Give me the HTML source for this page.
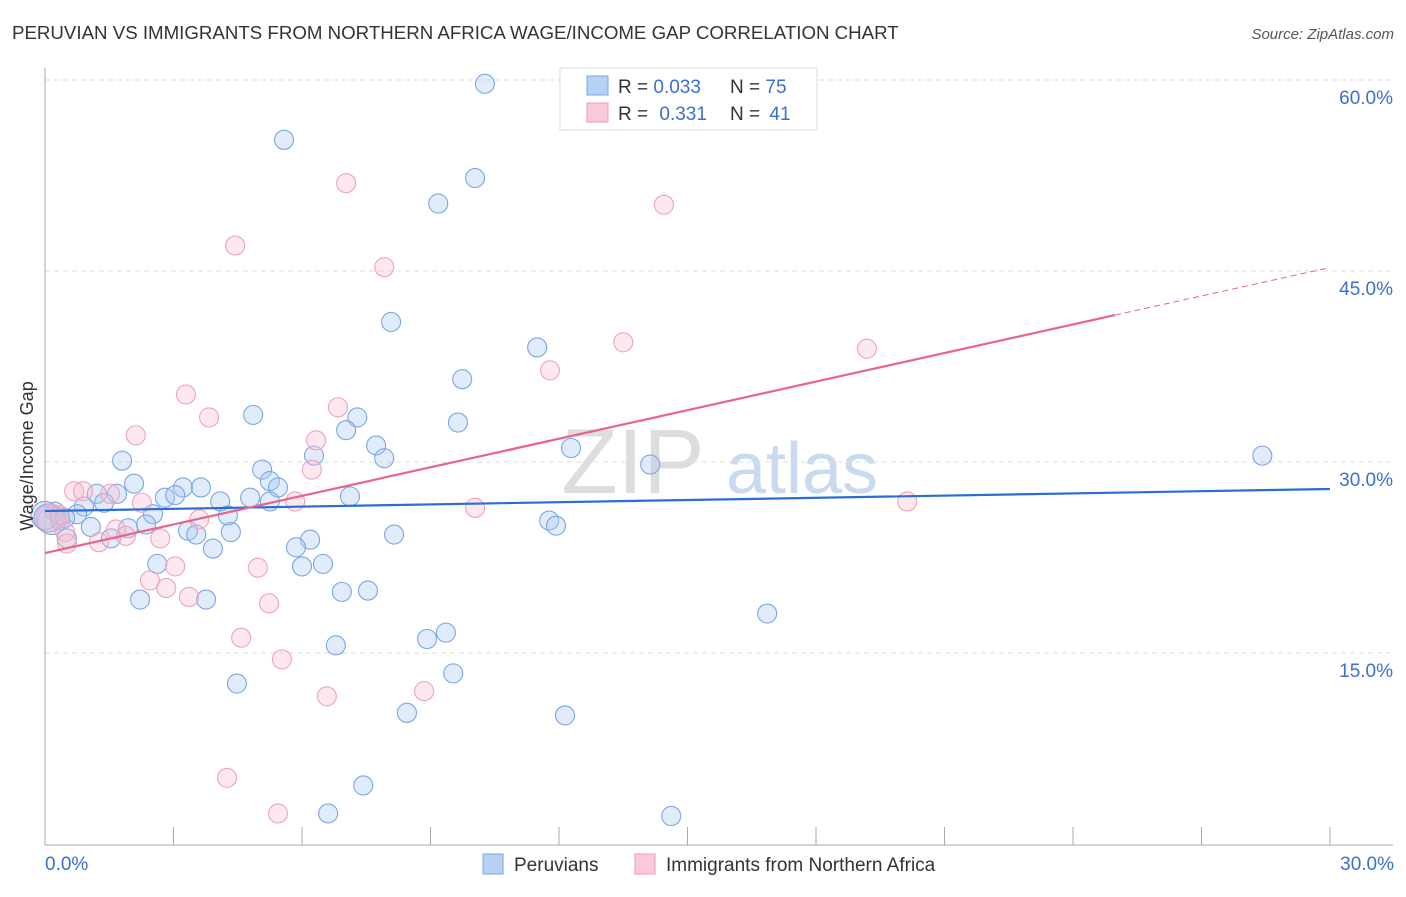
<!DOCTYPE html>
<html><head><meta charset="utf-8"><style>
body{margin:0;background:#fff;font-family:"Liberation Sans",sans-serif}
svg text{font-family:"Liberation Sans",sans-serif}
</style></head><body>
<svg id="chart" width="1406" height="892" xmlns="http://www.w3.org/2000/svg">
<text x="12" y="39" font-size="18.7" fill="#333">PERUVIAN VS IMMIGRANTS FROM NORTHERN AFRICA WAGE/INCOME GAP CORRELATION CHART</text>
<text x="1394" y="39" font-size="15" fill="#555" font-style="italic" text-anchor="end">Source: ZipAtlas.com</text>
<text x="633" y="493" font-size="92" fill="#ddd" font-family="Liberation Serif" text-anchor="middle">ZIP</text>
<text x="802" y="493" font-size="72" fill="#c9d9f0" text-anchor="middle">atlas</text>
<g id="grid"></g>
<g id="axes"></g>
<g id="points"></g>
<g id="lines"></g>
<text transform="translate(33,456) rotate(-90)" font-size="18" fill="#333" text-anchor="middle">Wage/Income Gap</text>
<g>
<rect x="560" y="68" width="257" height="62" fill="#fff" stroke="#ddd"/>
<rect x="587" y="76" width="21" height="19" fill="#b7d1f4" stroke="#7aa6e6"/>
<rect x="587" y="103" width="21" height="19" fill="#fbc9d8" stroke="#f09ab4"/>
<text x="618" y="93" font-size="19" fill="#333">R = <tspan fill="#3a6fd0">0.033</tspan></text>
<text x="730" y="93" font-size="19" fill="#333">N = <tspan fill="#3a6fd0">75</tspan></text>
<text x="618" y="120" font-size="19" fill="#333">R = <tspan fill="#3a6fd0" dx="6">0.331</tspan></text>
<text x="730" y="120" font-size="19" fill="#333">N = <tspan fill="#3a6fd0" dx="4">41</tspan></text>
</g>
<g>
<rect x="483" y="854" width="20" height="20" fill="#b7d1f4" stroke="#7aa6e6"/>
<text x="514" y="871" font-size="19" fill="#333">Peruvians</text>
<rect x="635" y="854" width="20" height="20" fill="#fbc9d8" stroke="#f09ab4"/>
<text x="666" y="871" font-size="19" fill="#333">Immigrants from Northern Africa</text>
</g>
<text x="45" y="870" font-size="19" fill="#3a6fd0">0.0%</text>
<text x="1394" y="870" font-size="19" fill="#3a6fd0" text-anchor="end">30.0%</text>
</svg>
<script>
const yTicks=[15,30,45,60];
const yTickLabels=["15.0%","30.0%","45.0%","60.0%"];
const xTicks=[0,3,6,9,12,15,18,21,24,27,30];
const blueX=[10.27,5.58,10.04,9.18,8.08,11.49,9.74,4.86,7.29,7.03,9.64,7.73,7.92,12.28,6.28,1.80,5.07,14.13,28.42,2.08,5.25,3.22,3.64,5.44,2.80,3.04,7.12,4.79,1.21,1.68,4.09,5.25,1.38,0.91,0.75,2.52,4.27,0.23,0.16,0.35,11.77,11.93,1.07,1.94,2.36,3.34,3.53,4.34,8.15,1.54,0.51,6.19,5.86,3.92,2.62,6.00,6.49,6.93,7.54,2.22,3.76,16.86,9.36,8.92,6.79,9.53,4.48,8.45,12.14,7.43,6.61,14.62,0.0,0.07,0.47];
const blueY=[59.7,55.3,52.3,50.3,41.0,39.0,36.5,33.7,33.5,32.5,33.1,31.3,30.3,31.1,30.5,30.1,29.4,29.8,30.5,28.3,28.5,28.0,28.0,28.0,27.2,27.4,27.3,27.2,27.5,27.5,26.9,26.9,26.8,26.5,25.9,25.9,25.8,26.1,25.4,25.4,25.4,25.0,24.9,24.8,25.1,24.6,24.3,24.5,24.3,24.0,24.0,23.9,23.3,23.2,22.0,21.8,22.0,19.8,19.9,19.2,19.2,18.1,16.6,16.1,15.6,13.4,12.6,10.3,10.1,4.6,2.4,2.2,25.8,25.6,25.6];
const pinkX=[7.03,14.45,4.44,7.92,13.50,19.19,11.79,3.29,6.84,3.83,2.12,6.33,6.23,0.68,0.89,1.52,2.26,5.84,10.04,20.13,3.60,0.47,1.66,1.89,2.69,1.26,0.51,3.04,4.97,2.45,2.83,3.36,5.23,4.58,5.53,6.58,8.85,4.25,5.44,0.12,0.35];
const pinkY=[51.9,50.2,47.0,45.3,39.4,38.9,37.2,35.3,34.3,33.5,32.1,31.7,29.4,27.7,27.7,27.5,26.8,26.9,26.4,26.9,25.5,24.5,24.7,24.2,24.0,23.7,23.6,21.8,21.7,20.7,20.1,19.4,18.9,16.2,14.5,11.6,12.0,5.2,2.4,25.6,25.8];
const blueTrend=[0,26.15,30,27.88];
const pinkTrend=[0,22.85,24.98,41.54,29.9,45.2];
const X0=45,X1=1330,Y0=844,PXPER=191/15;
const sx=v=>X0+(X1-X0)*v/30, sy=v=>Y0-v*PXPER;
const NS="http://www.w3.org/2000/svg";
function mk(tag,attrs,parent){const e=document.createElementNS(NS,tag);for(const k in attrs)e.setAttribute(k,attrs[k]);document.getElementById(parent).appendChild(e);return e;}
yTicks.forEach((t,i)=>{
 const l=mk('line',{x1:45,x2:1393,y1:sy(t),y2:sy(t),stroke:'#ddd','stroke-dasharray':'5,4'},'grid');
 
 
 const tx=mk('text',{x:1393,y:sy(t)+24,'font-size':19,fill:'#3a6fd0','text-anchor':'end'},'grid');
 tx.textContent=yTickLabels[i];
 
 
});
const ya=mk('line',{x1:45,x2:45,y1:68,y2:845,stroke:'#aaa'},'axes');


const xa=mk('line',{x1:45,x2:1393,y1:845,y2:845,stroke:'#aaa'},'axes');


xTicks.forEach(t=>{
 const l=mk('line',{x1:sx(t),x2:sx(t),y1:827,y2:845,stroke:'#aaa'},'axes');
 
 
});
function dots(xs,ys,fill,stroke,name){
 xs.forEach((x,i)=>{
  const r=(x<0.2&&Math.abs(ys[i]-25.7)<0.5)?14:9.5;
  const c=mk('circle',{cx:sx(x),cy:sy(ys[i]),r:r,fill:fill,stroke:stroke,'stroke-width':1.1},'points');
  
  
 });
}
dots(blueX,blueY,'rgba(170,200,242,0.35)','#7aa6e6','peruvian-point');
dots(pinkX,pinkY,'rgba(250,190,208,0.35)','#f0a3bb','immigrant-point');
const bl=mk('line',{x1:sx(blueTrend[0]),y1:sy(blueTrend[1]),x2:sx(blueTrend[2]),y2:sy(blueTrend[3]),stroke:'#2a6dd6','stroke-width':2.2},'lines');


const pl=mk('line',{x1:sx(pinkTrend[0]),y1:sy(pinkTrend[1]),x2:sx(pinkTrend[2]),y2:sy(pinkTrend[3]),stroke:'#e8638e','stroke-width':2.2},'lines');


const pd=mk('line',{x1:sx(pinkTrend[2]),y1:sy(pinkTrend[3]),x2:sx(pinkTrend[4]),y2:sy(pinkTrend[5]),stroke:'#e8638e','stroke-width':1,'stroke-dasharray':'6,4'},'lines');


</script>
</body></html>
